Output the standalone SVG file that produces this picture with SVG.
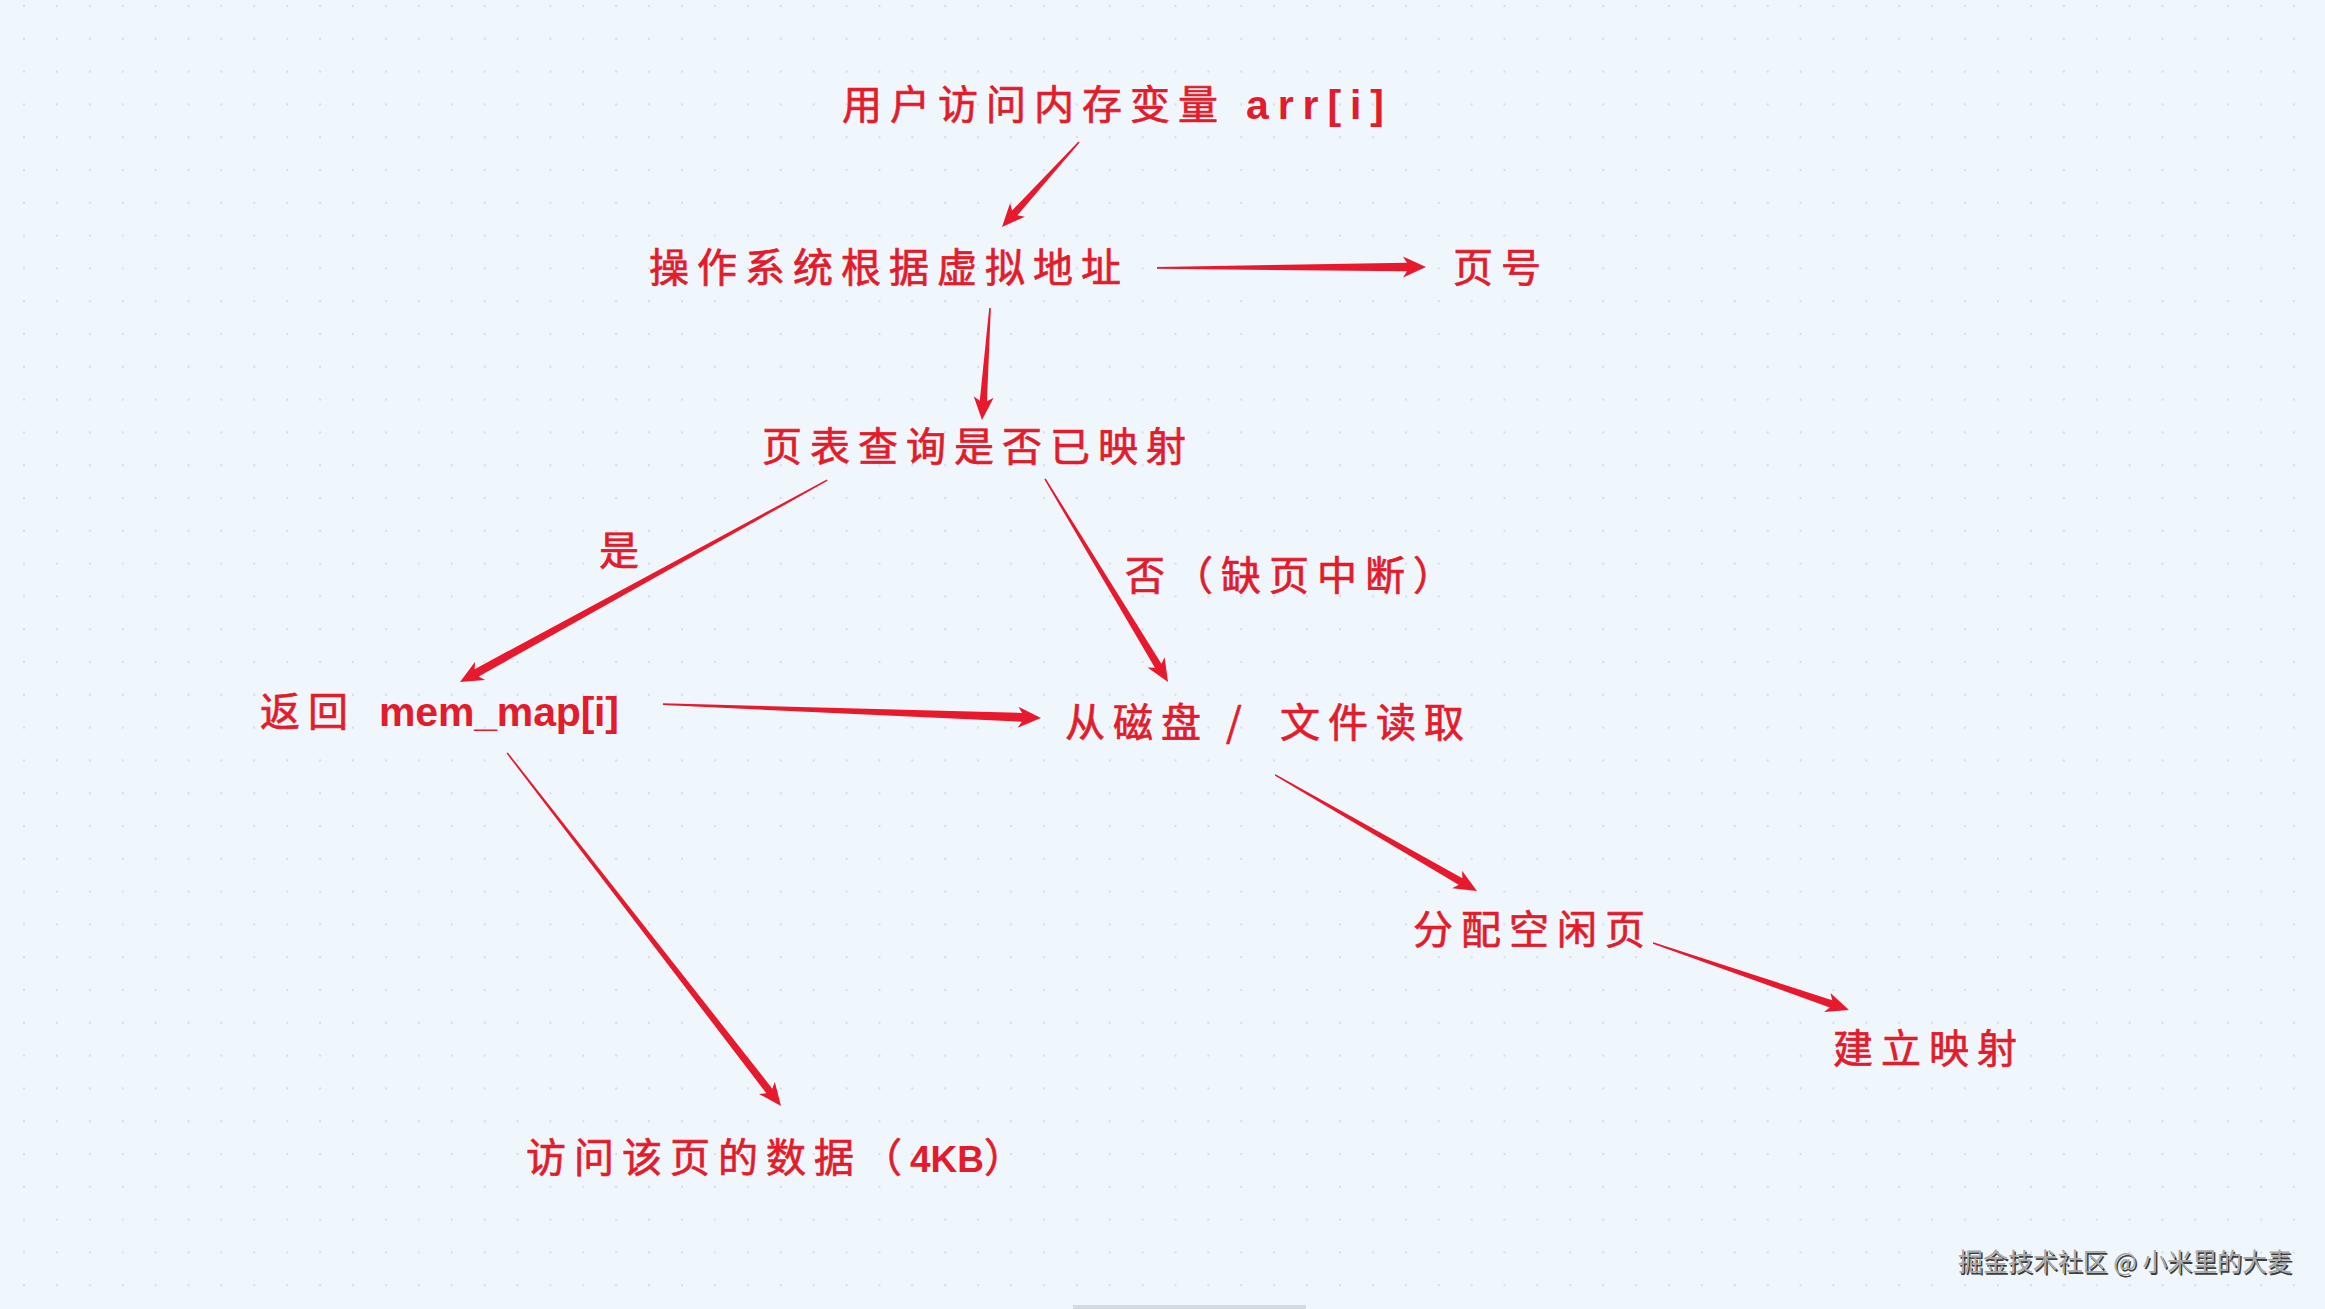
<svg xmlns="http://www.w3.org/2000/svg" width="2325" height="1309" viewBox="0 0 2325 1309">
<style>
.cn{font-family:"Noto Sans CJK SC","Noto Sans",sans-serif;font-size:40px;fill:#E31B2A;stroke:#E31B2A;stroke-width:0.7px;letter-spacing:8px}
.lt{font-family:"Liberation Sans",Arial,sans-serif;font-weight:bold;font-size:41px;fill:#E31B2A;stroke:none;letter-spacing:0}
.arrow{fill:#E8192C}
.wm{font-family:"Noto Sans CJK SC",sans-serif;font-size:25px}
</style>
<defs>
<pattern id="dots" x="23" y="5" width="32.9" height="32.8" patternUnits="userSpaceOnUse">
<rect x="0" y="0" width="2" height="2" fill="#d6dde7"/>
</pattern>
</defs>
<rect width="2325" height="1309" fill="#EFF6FC"/>
<rect width="2325" height="1309" fill="url(#dots)"/>
<rect x="1073" y="1305" width="233" height="4" fill="#d3dbe2"/>

<g id="connectors">
<path class="arrow" transform="translate(1002,227) rotate(132.2)" d="M -114.7,-0.8 L -19,-3.6 L -23,-10 L 0,0 L -23,10 L -19,3.6 L -114.7,0.8 Z"/>
<path class="arrow" transform="translate(1426,267) rotate(-0.2)" d="M -269,-0.9 L -19,-4.3 L -23,-10.5 L 0,0 L -23,10.5 L -19,4.3 L -269,0.9 Z"/>
<path class="arrow" transform="translate(982,420) rotate(94.1)" d="M -112.3,-0.8 L -19,-3.6 L -23,-10 L 0,0 L -23,10 L -19,3.6 L -112.3,0.8 Z"/>
<path class="arrow" transform="translate(460,682) rotate(151.2)" d="M -419,-0.8 L -19,-4.2 L -23,-10.5 L 0,0 L -23,10.5 L -19,4.2 L -419,0.8 Z"/>
<path class="arrow" transform="translate(1168,682) rotate(58.8)" d="M -237.4,-0.8 L -19,-3.8 L -23,-10 L 0,0 L -23,10 L -19,3.8 L -237.4,0.8 Z"/>
<path class="arrow" transform="translate(1041,718) rotate(2.1)" d="M -378.3,-0.9 L -19,-4.4 L -23,-10.5 L 0,0 L -23,10.5 L -19,4.4 L -378.3,0.9 Z"/>
<path class="arrow" transform="translate(1477,891) rotate(29.9)" d="M -232.9,-0.8 L -19,-3.8 L -23,-10 L 0,0 L -23,10 L -19,3.8 L -232.9,0.8 Z"/>
<path class="arrow" transform="translate(1849,1010) rotate(18.9)" d="M -207.1,-0.8 L -19,-3.8 L -23,-10 L 0,0 L -23,10 L -19,3.8 L -207.1,0.8 Z"/>
<path class="arrow" transform="translate(781,1106) rotate(52.2)" d="M -446.9,-0.8 L -19,-3.8 L -23,-10 L 0,0 L -23,10 L -19,3.8 L -446.9,0.8 Z"/>
</g>

<g id="n-access">
<text class="cn" x="842" y="119">用户访问内存变量<tspan class="lt" x="1246" textLength="138">arr[i]</tspan></text>
</g>
<g id="n-os">
<text class="cn" x="649" y="282">操作系统根据虚拟地址</text>
</g>
<g id="n-pagenum">
<text class="cn" x="1453" y="282">页号</text>
</g>
<g id="n-lookup">
<text class="cn" x="762" y="461">页表查询是否已映射</text>
</g>
<g id="l-yes">
<text class="cn" x="599" y="565">是</text>
</g>
<g id="l-no">
<text class="cn" x="1125" y="590">否（缺页中断）</text>
</g>
<g id="n-return">
<text class="cn" x="260" y="726">返回<tspan class="lt" x="379" textLength="240">mem_map[i]</tspan></text>
</g>
<g id="n-disk">
<text class="cn" x="1065" y="737">从磁盘<tspan x="1226">/</tspan><tspan x="1280">文件读取</tspan></text>
</g>
<g id="n-alloc">
<text class="cn" x="1413" y="944">分配空闲页</text>
</g>
<g id="n-map">
<text class="cn" x="1833" y="1063">建立映射</text>
</g>
<g id="n-data">
<text class="cn" x="526" y="1172">访问该页的数据（<tspan class="lt" style="font-size:37px">4KB</tspan>）</text>
</g>
<g id="watermark">
<text class="wm" x="1959.5" y="1272.5" textLength="334" fill="#3c3c3c">掘金技术社区 @ 小米里的大麦</text>
<text class="wm" x="1958" y="1271" textLength="334" fill="#a8a8a8">掘金技术社区 @ 小米里的大麦</text>
</g>
</svg>
